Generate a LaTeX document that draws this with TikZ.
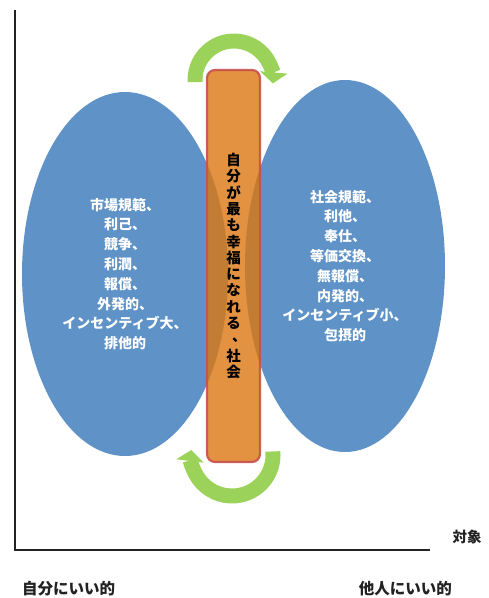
\documentclass[tikz,border=0pt]{standalone}
\usepackage{fontspec}
\newfontfamily\jp{Noto Sans CJK JP}
\usetikzlibrary{shapes.geometric,arrows.meta}
\definecolor{ellblue}{HTML}{5F93C7}
\definecolor{barorange}{HTML}{DB7710}
\definecolor{barred}{HTML}{C9514D}
\definecolor{arrgreen}{HTML}{9BD35A}
\definecolor{axisgray}{HTML}{222222}
\begin{document}
\begin{tikzpicture}[x=1pt,y=1pt,
  ell/.style={ellipse, fill=ellblue, inner sep=0pt, text=white,
    font=\jp\bfseries\fontsize{14}{19.8}\selectfont, align=center},
  bar/.style={rounded corners=8pt, draw=barred, line width=2.2pt, fill=barorange,
    fill opacity=0.8, draw opacity=0.9, text opacity=1, inner sep=0pt,
    font=\jp\bfseries\fontsize{14.5}{16.3}\selectfont, align=center},
  loop/.style={draw=arrgreen, line width=15pt, -{Triangle[length=11pt,width=27pt]}},
  lbl/.style={font=\jp\bfseries\fontsize{15.5}{17}\selectfont, text=axisgray, inner sep=0pt},
  axisline/.style={draw=axisgray, line width=2.4pt}
]
\useasboundingbox (0,0) rectangle (489,-598);

% axes
\coordinate (ytop) at (15,-10);
\coordinate (orig) at (15,-550);
\coordinate (xend) at (430,-550);
\draw[axisline] (ytop) -- (orig) -- (xend);

% ellipses
\node[ell, minimum width=206, minimum height=364] (left) at (125,-274)
  {市場規範、\\利己、\\競争、\\利潤、\\報償、\\外発的、\\インセンティブ大、\\排他的};
\node[ell, minimum width=200, minimum height=372] (right) at (345,-266)
  {社会規範、\\利他、\\奉仕、\\等価交換、\\無報償、\\内発的、\\インセンティブ小、\\包摂的};

% central bar
\node[bar, minimum width=53, minimum height=392] (bar) at (233.5,-266)
  {自\\分\\が\\最\\も\\幸\\福\\に\\な\\れ\\る\\\makebox[1em][l]{\hspace{0.4em}\raisebox{0.2em}{、}}\\社\\会};

% cycle arrows
\coordinate (topc) at (234,-80);
\coordinate (botc) at (232,-455);
\draw[loop] ([shift={(183:39)}]topc) arc[start angle=183, end angle=-5, radius=39];
\draw[loop] ([shift={(5:41)}]botc) arc[start angle=5, end angle=-187, radius=41];

% labels
\node[lbl, font=\jp\bfseries\fontsize{14.5}{16}\selectfont] (obj) at (467,-537) {対象};
\node[lbl, anchor=west] (self) at (22,-589) {自分にいい的};
\node[lbl, anchor=east] (other) at (452,-589) {他人にいい的};
\end{tikzpicture}
\end{document}
